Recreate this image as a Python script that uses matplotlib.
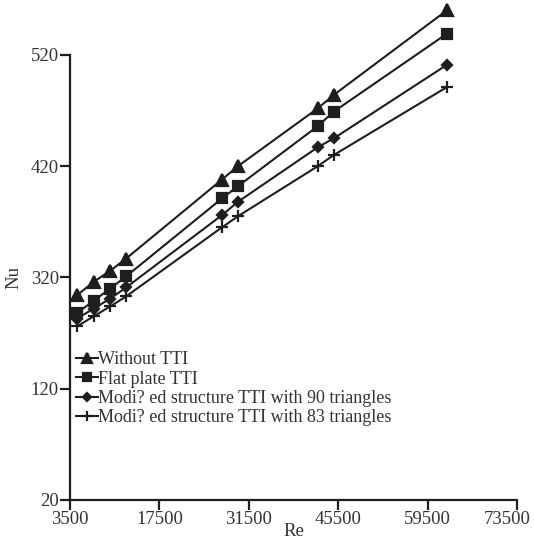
import numpy as np
import matplotlib
matplotlib.use("Agg")
import matplotlib.pyplot as plt
import matplotlib.transforms as mtransforms

# Re values of the measuring points
re = [4600, 7200, 9800, 12300, 27300, 29800, 42300, 44800, 62500]

# Nu for each case
nu_without = [304, 316, 326, 337, 408, 420, 472, 484, 560]
nu_flat = [288, 299, 310, 321, 391, 402, 456, 469, 539]
nu_90 = [283, 292, 301, 311, 376, 388, 437, 445, 511]
nu_83 = [276, 285, 294, 303, 365, 375, 420, 430, 491]

labels = ["Without TTI", "Flat plate TTI",
          "Modi? ed structure TTI with 90 triangles",
          "Modi? ed structure TTI with 83 triangles"]

x_ticks = [3500, 17500, 31500, 45500, 59500, 73500]
# y axis is printed with a jump (no 220 label), keep the labels as printed
y_tick_pos = [120, 220, 320, 420, 520]
y_tick_labels = ["20", "120", "320", "420", "520"]

plt.rcParams['font.family'] = ['Liberation Serif', 'DejaVu Serif']
plt.rcParams['font.size'] = 13.5

fig = plt.figure(figsize=(5.34, 5.39), dpi=100)
ax = fig.add_axes([0.131, 0.0724, 0.837, 0.8256])

ink = '#1e1e1e'
txt = '#333333'
series = [(nu_without, '^', 9), (nu_flat, 's', 7.5), (nu_90, 'D', 5.5), (nu_83, '+', 9)]
for (vals, mk, ms), lab in zip(series, labels):
    ax.plot(re, vals, color=ink, lw=1.5, marker=mk, ms=ms, mew=1.6,
            label=lab, clip_on=False)

ax.set_xlim(3500, 73500)
ax.set_ylim(120, 520)
ax.set_xticks(x_ticks)
ax.set_yticks(y_tick_pos)
ax.set_yticklabels(y_tick_labels)

for s in ['top', 'right']:
    ax.spines[s].set_visible(False)
for s in ['left', 'bottom']:
    ax.spines[s].set_linewidth(1.6)
    ax.spines[s].set_color(ink)
ax.tick_params(direction='out', length=7, width=1.6, colors=ink,
               labelcolor=txt, pad=1)

# last x label sits a bit left of its tick so it fits in the picture
last = ax.get_xticklabels()[-1]
last.set_transform(last.get_transform() +
                   mtransforms.ScaledTranslation(-0.1, 0, fig.dpi_scale_trans))

ax.set_xlabel("Re", color=txt, labelpad=-3.8)
ax.set_ylabel("Nu", color=txt, labelpad=6)

leg = ax.legend(loc='upper left', bbox_to_anchor=(-0.003, 0.35), frameon=False,
                handlelength=1.2, handletextpad=0.0, labelspacing=0.13,
                borderaxespad=0, markerscale=0.8, fontsize=13)
for t in leg.get_texts():
    t.set_color(txt)

fig.savefig("out.png", dpi=100)
